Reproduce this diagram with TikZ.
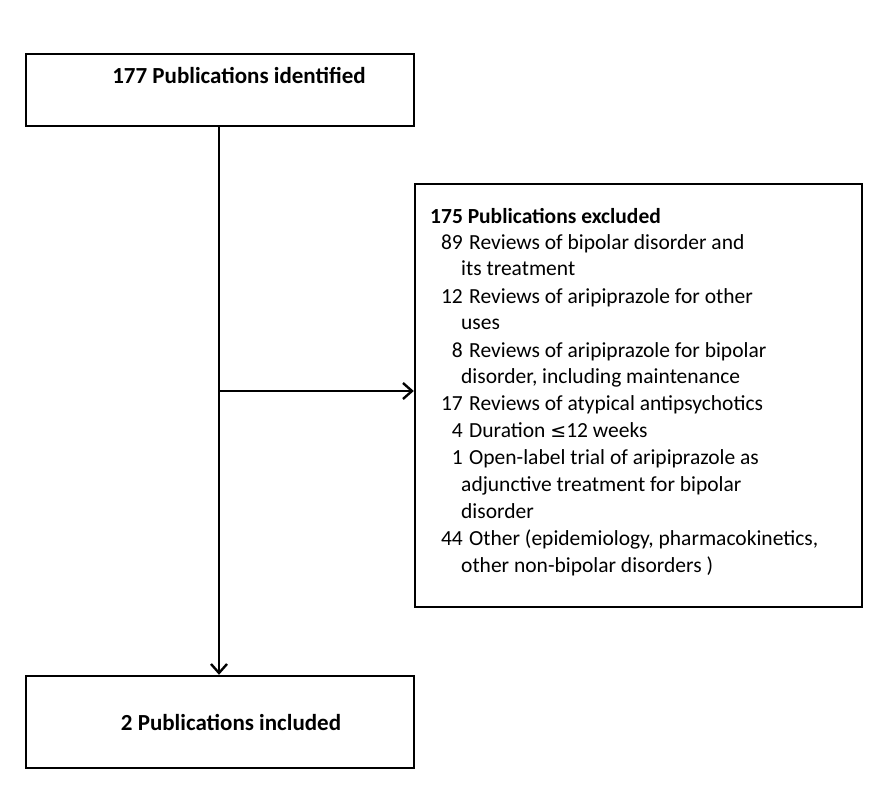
\documentclass[tikz,border=0pt]{standalone}
\usepackage{fontspec}
\setmainfont{Carlito}
\newfontfamily\symf{DejaVu Sans}
\usetikzlibrary{arrows.meta}
\begin{document}
\begin{tikzpicture}[x=1pt,y=-1pt,
  box/.style={draw,line width=2.4pt,inner sep=0pt},
  ttl/.style={anchor=base,inner sep=0pt,font=\fontsize{23}{27}\selectfont\bfseries},
  ln/.style={anchor=base west,inner sep=0pt,font=\fontsize{21.5}{24}\selectfont},
  num/.style={anchor=base east,inner sep=0pt,font=\fontsize{21.5}{24}\selectfont},
  arr/.style={line width=2.4pt,-{Straight Barb[length=9pt,width=16pt]}}]
\useasboundingbox (0,0) rectangle (889,800);
\node[box,minimum width=388pt,minimum height=72pt] (top) at (220,90) {};
\node[ttl] (toptxt) at (239,84) {177 Publications identified};
\node[box,minimum width=388pt,minimum height=92pt] (bot) at (220,722) {};
\node[ttl] (bottxt) at (231,730) {2 Publications included};
\node[box,minimum width=447pt,minimum height=423pt] (exc) at (638.5,395.5) {};
\coordinate (j) at (219,391);
\draw[arr] (top.south -| j) -- (bot.north -| j);
\draw[arr] (j) -- (exc.west |- j);
\node[ln,font=\fontsize{21.5}{24}\selectfont\bfseries] (h) at (430,223) {175 Publications excluded};
\foreach \y/\n/\t [count=\i] in {249/89/Reviews of bipolar disorder and,303/12/Reviews of aripiprazole for other,357/8/Reviews of aripiprazole for bipolar,410/17/Reviews of atypical antipsychotics,464/1/Open-label trial of aripiprazole as,545/44/{Other (epidemiology, pharmacokinetics,}}{
  \node[num] (n\i) at (463,\y) {\n};
  \node[ln] (t\i) at (469,\y) {\t};
}
\node[num] (n7) at (463,437) {4};
\node[ln] (t7) at (469,437) {Duration {\symf\fontsize{19}{22}\selectfont ≤}12 weeks};
\foreach \y/\t [count=\i] in {275/its treatment,329/uses,383/{disorder, including maintenance},491/adjunctive treatment for bipolar,518/disorder,572/{other non-bipolar disorders )}}{
  \node[ln] (c\i) at (461,\y) {\t};
}
\end{tikzpicture}
\end{document}
